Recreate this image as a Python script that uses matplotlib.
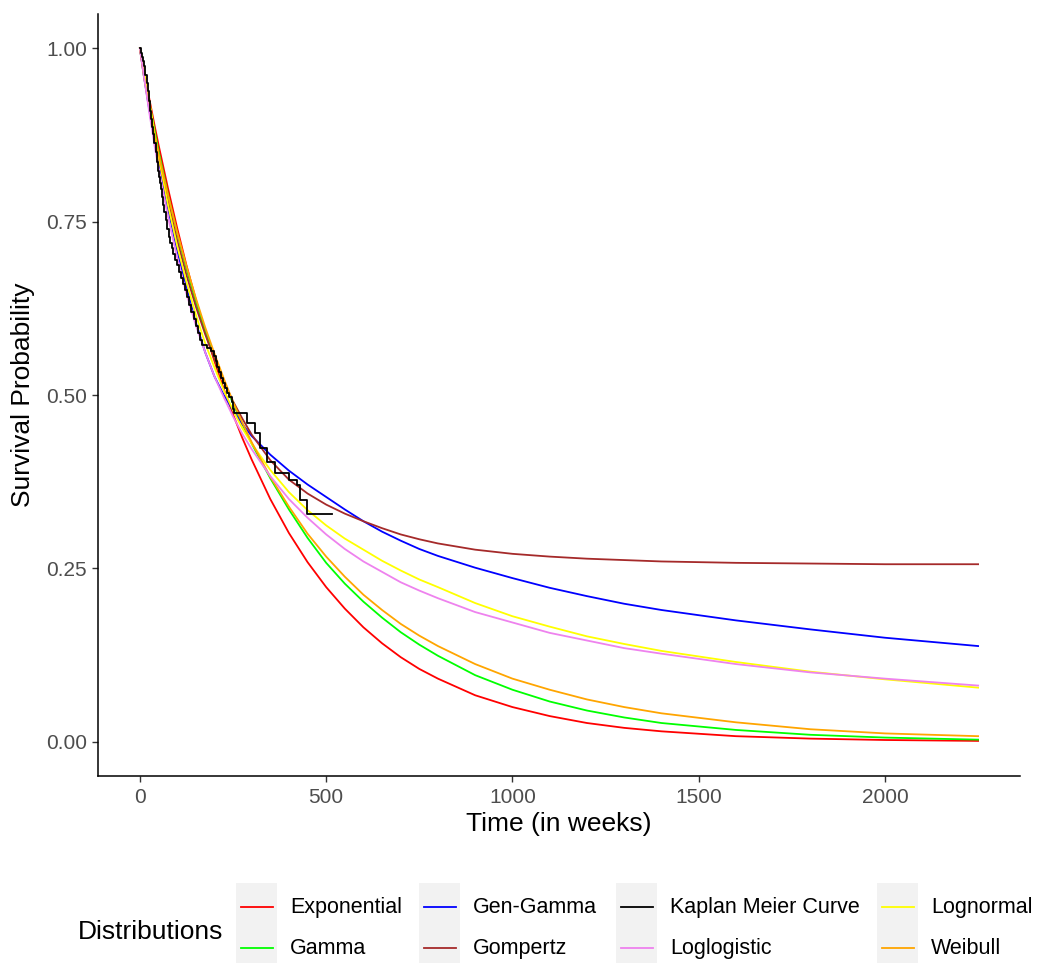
import matplotlib
matplotlib.use('Agg')
import matplotlib.pyplot as plt
from matplotlib.patches import Rectangle
from matplotlib.lines import Line2D

plt.rcParams['font.family'] = ['Liberation Sans', 'DejaVu Sans']

# ---- data ----
times = [0, 10, 25, 40, 50, 75, 100, 125, 150, 175, 200, 225, 250, 275, 300, 350,
         400, 450, 500, 550, 600, 650, 700, 750, 800, 900, 1000, 1100, 1200, 1300,
         1400, 1600, 1800, 2000, 2250]

exponential = [1.000, 0.970, 0.928, 0.887, 0.861, 0.799, 0.741, 0.687, 0.638, 0.592,
               0.549, 0.509, 0.472, 0.438, 0.407, 0.350, 0.301, 0.259, 0.223, 0.192,
               0.165, 0.142, 0.122, 0.105, 0.091, 0.067, 0.050, 0.037, 0.027, 0.020,
               0.015, 0.008, 0.0045, 0.0025, 0.0012]
gamma = [1.000, 0.969, 0.922, 0.880, 0.852, 0.790, 0.733, 0.682, 0.635, 0.592,
         0.553, 0.519, 0.488, 0.458, 0.430, 0.380, 0.335, 0.294, 0.258, 0.228,
         0.202, 0.179, 0.158, 0.140, 0.124, 0.096, 0.075, 0.058, 0.045, 0.035,
         0.027, 0.017, 0.010, 0.006, 0.003]
gen_gamma = [1.000, 0.962, 0.912, 0.866, 0.838, 0.770, 0.709, 0.655, 0.605, 0.562,
             0.527, 0.500, 0.478, 0.458, 0.441, 0.414, 0.391, 0.371, 0.353, 0.335,
             0.318, 0.303, 0.290, 0.278, 0.268, 0.251, 0.236, 0.222, 0.210, 0.199,
             0.190, 0.175, 0.162, 0.150, 0.138]
gompertz = [1.000, 0.966, 0.915, 0.870, 0.843, 0.780, 0.723, 0.673, 0.628, 0.588,
            0.552, 0.520, 0.491, 0.466, 0.443, 0.406, 0.378, 0.358, 0.342, 0.329,
            0.318, 0.308, 0.299, 0.292, 0.286, 0.277, 0.271, 0.267, 0.264, 0.262,
            0.260, 0.258, 0.257, 0.256, 0.256]
loglogistic = [1.000, 0.963, 0.908, 0.858, 0.827, 0.758, 0.698, 0.646, 0.601, 0.562,
               0.527, 0.497, 0.469, 0.444, 0.422, 0.383, 0.350, 0.323, 0.299, 0.278,
               0.260, 0.245, 0.230, 0.218, 0.207, 0.187, 0.172, 0.157, 0.146, 0.135,
               0.127, 0.112, 0.100, 0.091, 0.081]
lognormal = [1.000, 0.975, 0.925, 0.875, 0.845, 0.775, 0.715, 0.663, 0.616, 0.575,
             0.540, 0.507, 0.478, 0.452, 0.430, 0.392, 0.360, 0.334, 0.312, 0.293,
             0.277, 0.261, 0.247, 0.234, 0.223, 0.200, 0.181, 0.166, 0.152, 0.141,
             0.131, 0.115, 0.101, 0.090, 0.078]
weibull = [1.000, 0.962, 0.915, 0.873, 0.848, 0.789, 0.735, 0.686, 0.640, 0.598,
           0.560, 0.524, 0.490, 0.460, 0.432, 0.382, 0.339, 0.300, 0.267, 0.238,
           0.212, 0.190, 0.170, 0.153, 0.138, 0.112, 0.091, 0.075, 0.061, 0.050,
           0.041, 0.028, 0.018, 0.012, 0.008]

km_times = [0, 3, 6, 9, 12, 15, 18, 21, 24, 27, 30, 33, 36, 39, 42, 45, 48, 51, 54,
            57, 60, 63, 66, 70, 74, 78, 82, 86, 90, 95, 100, 105, 110, 115, 120, 126,
            132, 138, 144, 150, 156, 162, 168, 180, 192, 198, 203, 208, 213, 218, 223,
            228, 234, 240, 246, 250, 253, 288, 310, 323, 341, 363, 399, 421, 431, 449,
            516]
km_surv = [1.000, 0.994, 0.988, 0.982, 0.974, 0.962, 0.950, 0.938, 0.924, 0.910,
           0.898, 0.887, 0.876, 0.864, 0.850, 0.836, 0.823, 0.815, 0.806, 0.797,
           0.786, 0.774, 0.764, 0.752, 0.740, 0.728, 0.720, 0.712, 0.704, 0.695,
           0.687, 0.678, 0.669, 0.660, 0.651, 0.641, 0.630, 0.620, 0.610, 0.600,
           0.590, 0.580, 0.572, 0.568, 0.563, 0.556, 0.549, 0.540, 0.533, 0.525,
           0.517, 0.510, 0.503, 0.497, 0.490, 0.480, 0.474, 0.459, 0.445, 0.423,
           0.404, 0.387, 0.377, 0.370, 0.349, 0.329, 0.329]

legend_labels = ['Exponential', 'Gamma', 'Gen-Gamma', 'Gompertz',
                 'Kaplan Meier Curve', 'Loglogistic', 'Lognormal', 'Weibull']
legend_colors = ['#FF0000', '#00FF00', '#0000FF', '#A52A2A',
                 '#000000', '#EE82EE', '#FFFF00', '#FFA500']

x_ticks = [0, 500, 1000, 1500, 2000]
y_ticks = [0.00, 0.25, 0.50, 0.75, 1.00]
y_tick_labels = ['0.00', '0.25', '0.50', '0.75', '1.00']

# ---- figure ----
W, H = 1041, 963
fig = plt.figure(figsize=(W / 100, H / 100), dpi=100)
ax = fig.add_axes([98 / W, 1 - 776.4 / H, (1020 - 98) / W, (776.4 - 13.7) / H])

lw = 1.3
series = {
    'Exponential': exponential, 'Gamma': gamma, 'Gen-Gamma': gen_gamma,
    'Gompertz': gompertz, 'Lognormal': lognormal, 'Weibull': weibull,
    'Loglogistic': loglogistic,
}
col = dict(zip(legend_labels, legend_colors))
for name, vals in series.items():
    ax.plot(times, vals, color=col[name], lw=lw, solid_joinstyle='round')
ax.step(km_times, km_surv, where='post', color=col['Kaplan Meier Curve'], lw=lw)

ax.set_xlim(-112.5, 2362.5)
ax.set_ylim(-0.05, 1.05)
ax.set_xticks(x_ticks)
ax.set_xticklabels([str(v) for v in x_ticks])
ax.set_yticks(y_ticks)
ax.set_yticklabels(y_tick_labels)
for s in ['top', 'right']:
    ax.spines[s].set_visible(False)
for s in ['left', 'bottom']:
    ax.spines[s].set_linewidth(1.1)
    ax.spines[s].set_color('black')
ax.tick_params(axis='both', length=4, width=1.0, color='#333333',
               labelsize=15, labelcolor='#4D4D4D', pad=4)
ax.set_xlabel('Time (in weeks)', fontsize=19, color='black', labelpad=4)
ax.set_ylabel('Survival Probability', fontsize=19, color='black', labelpad=8)

# ---- legend (ggplot-style, bottom) ----
def fy(py):
    return 1 - py / H

fig.text(78 / W, fy(932), 'Distributions', fontsize=19, ha='left', va='center')
rect_x = [236, 419, 616, 877]
row_y = [907, 948]
for c in range(4):
    x0 = rect_x[c]
    fig.patches.append(Rectangle((x0 / W, fy(963)), 41 / W, (963 - 883) / H,
                                 transform=fig.transFigure, facecolor='#F2F2F2',
                                 edgecolor='none', zorder=0))
    for r in range(2):
        i = c * 2 + r
        fig.lines.append(Line2D([(x0 + 5) / W, (x0 + 37) / W], [fy(row_y[r])] * 2,
                                transform=fig.transFigure, color=legend_colors[i],
                                lw=lw))
        fig.text((x0 + 54) / W, fy(row_y[r]), legend_labels[i], fontsize=15.5,
                 ha='left', va='center', color='black')

fig.savefig('out.png', dpi=100, facecolor='white')
